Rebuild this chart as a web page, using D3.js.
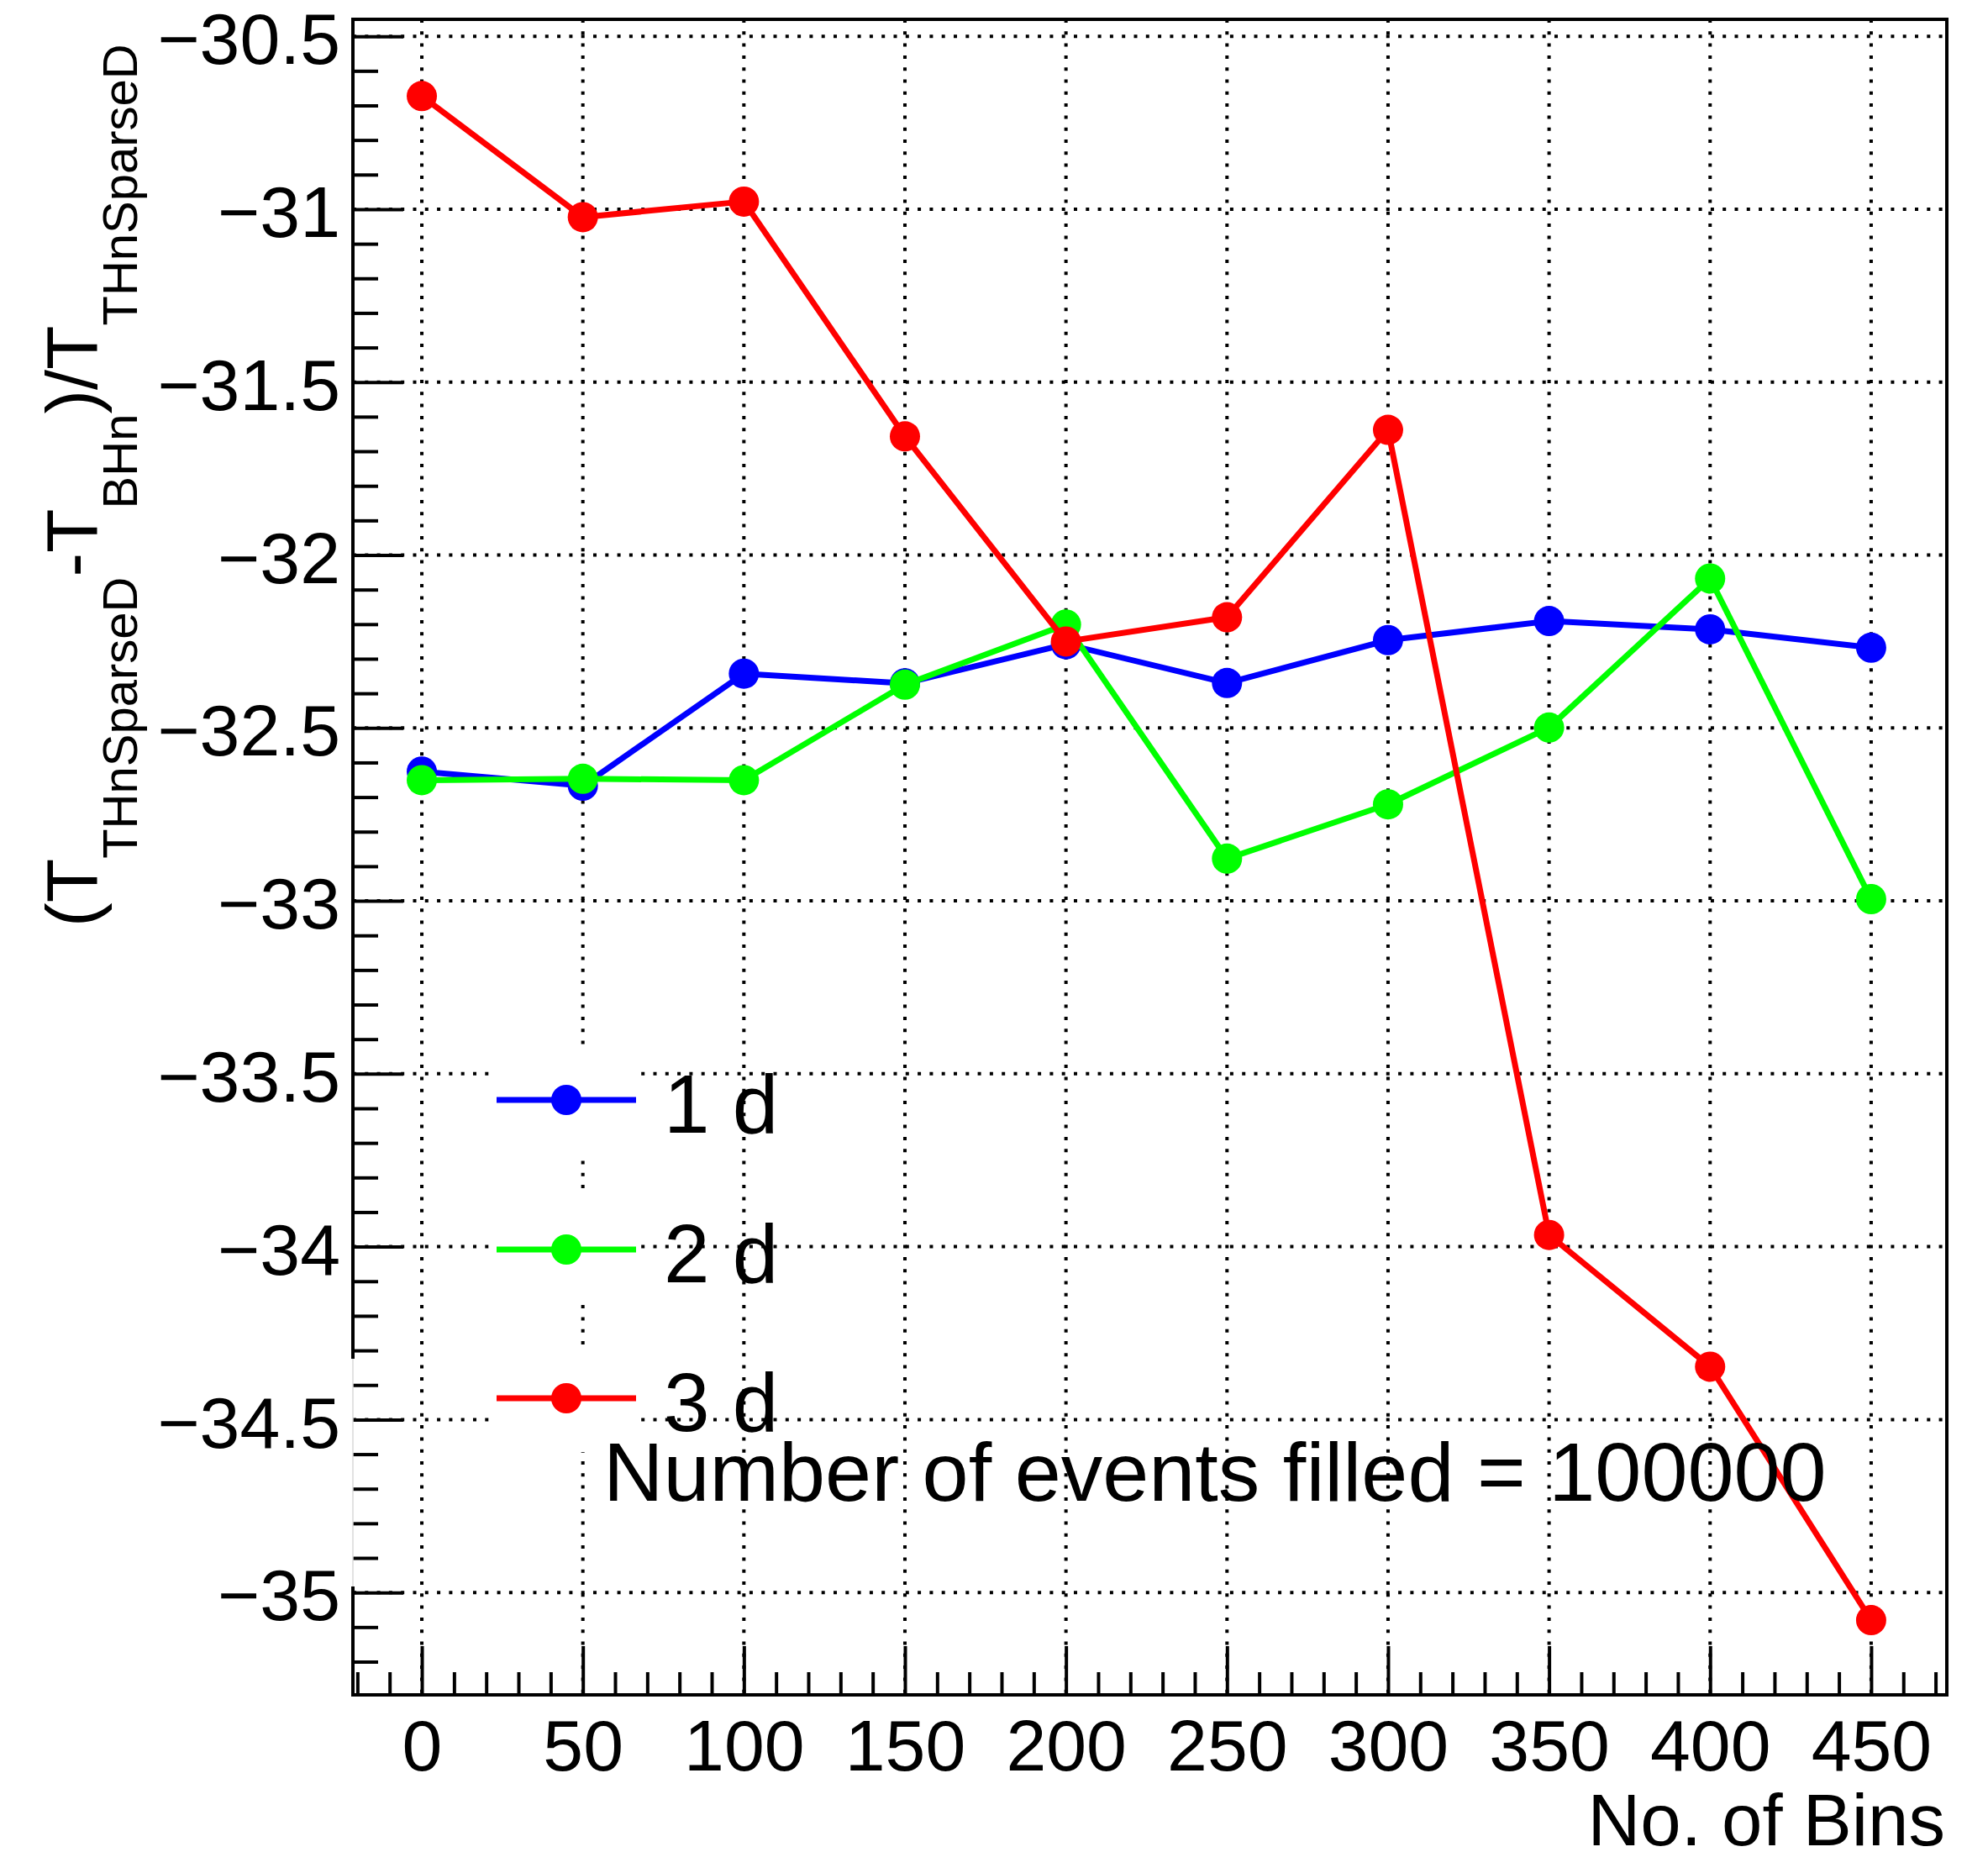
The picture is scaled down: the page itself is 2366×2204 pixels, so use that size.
<!DOCTYPE html>
<html>
<head>
<meta charset="utf-8">
<script src="https://cdn.jsdelivr.net/npm/d3@7"></script>
<style>
  html, body { margin: 0; padding: 0; background: #fff; }
  svg { display: block; }
  text { font-family: "Liberation Sans", Arial, Helvetica, sans-serif; fill: #000; }
</style>
</head>
<body>
<svg id="chart" width="2366" height="2204"></svg>
<script>
// ---- data ----
const xBins = [0, 50, 100, 150, 200, 250, 300, 350, 400, 450];
const values1d = [-32.626, -32.667, -32.343, -32.371, -32.258, -32.370, -32.246, -32.191, -32.215, -32.268];
const values2d = [-32.651, -32.647, -32.651, -32.375, -32.201, -32.878, -32.721, -32.499, -32.068, -32.995];
const values3d = [-30.673, -31.023, -30.978, -31.657, -32.250, -32.180, -31.638, -33.966, -34.347, -35.080];
const seriesNames = ["1 d", "2 d", "3 d"];
const seriesColors = ["#0000ff", "#00ff00", "#ff0000"];
const xTickValues = [0, 50, 100, 150, 200, 250, 300, 350, 400, 450];
const yTickValues = [-35, -34.5, -34, -33.5, -33, -32.5, -32, -31.5, -31, -30.5];
const xTitle = "No. of Bins";
const annotation = "Number of events filled = 100000";

const seriesList = [values1d, values2d, values3d];

// ---- layout ----
const L = 420, R = 2317, T = 23, B = 2017;
const svg = d3.select("#chart");
svg.append("rect").attr("width", 2366).attr("height", 2204).attr("fill", "#fff");

const x = d3.scaleLinear().domain([-21.4, 473.5]).range([L, R]);
const y = d3.scaleLinear().domain([-35.296, -30.451]).range([B, T]);

// grid
const grid = svg.append("g");
grid.selectAll("line.vx").data(xTickValues).join("line")
  .attr("x1", d => x(d)).attr("x2", d => x(d)).attr("y1", T).attr("y2", B)
  .attr("stroke", "#000").attr("stroke-width", 4).attr("stroke-dasharray", "4,10.3");
grid.selectAll("line.hy").data(yTickValues).join("line")
  .attr("x1", L).attr("x2", R).attr("y1", d => y(d)).attr("y2", d => y(d))
  .attr("stroke", "#000").attr("stroke-width", 4).attr("stroke-dasharray", "4,10.3");

// minor ticks
const xMinor = d3.range(-20, 473, 10).filter(v => v % 50 !== 0);
const yMinor = d3.range(-35.2, -30.45, 0.1).map(v => Math.round(v * 10) / 10)
  .filter(v => Math.abs(v * 2 - Math.round(v * 2)) > 1e-6);

const axMinX = svg.append("g").attr("transform", `translate(0,${B})`)
  .call(d3.axisBottom(x).tickValues(xMinor).tickSize(-27).tickFormat(""));
const axMinY = svg.append("g").attr("transform", `translate(${L},0)`)
  .call(d3.axisLeft(y).tickValues(yMinor).tickSize(-30).tickFormat(""));

// major ticks with labels
const axX = svg.append("g").attr("transform", `translate(0,${B})`)
  .call(d3.axisBottom(x).tickValues(xTickValues).tickSize(-58).tickPadding(29).tickFormat(d3.format("d")));
const axY = svg.append("g").attr("transform", `translate(${L},0)`)
  .call(d3.axisLeft(y).tickValues(yTickValues).tickSize(-60).tickPadding(15).tickFormat(d3.format("~g")));

[axMinX, axMinY, axX, axY].forEach(g => {
  g.select(".domain").remove();
  g.selectAll(".tick line").attr("stroke", "#000").attr("stroke-width", 4);
});
[axX, axY].forEach(g => {
  g.selectAll(".tick text").attr("font-size", 86)
    .attr("font-family", "'Liberation Sans', Arial, Helvetica, sans-serif").attr("fill", "#000");
});
axY.selectAll(".tick text").attr("dy", "0.38em");

// frame
const frame = svg.append("g").attr("stroke", "#000").attr("stroke-width", 4).attr("fill", "none");
frame.append("line").attr("x1", L - 2).attr("x2", R + 2).attr("y1", T).attr("y2", T);
frame.append("line").attr("x1", R).attr("x2", R).attr("y1", T).attr("y2", B);
frame.append("line").attr("x1", L - 2).attr("x2", R + 2).attr("y1", B).attr("y2", B);
frame.append("line").attr("x1", L).attr("x2", L).attr("y1", T).attr("y2", 1617);
frame.append("line").attr("x1", L).attr("x2", L).attr("y1", 1888).attr("y2", B);
svg.append("line").attr("x1", L).attr("x2", L).attr("y1", 1617).attr("y2", 1888)
  .attr("stroke", "#d8d8d8").attr("stroke-width", 1.5);

// legend boxes (white) + entries
const legendY = [1309, 1487, 1664];
const leg = svg.append("g");
seriesNames.forEach((name, i) => {
  const ly = legendY[i];
  leg.append("rect").attr("x", 582).attr("y", ly - 64).attr("width", 181).attr("height", 128).attr("fill", "#fff");
  leg.append("line").attr("x1", 591).attr("x2", 757).attr("y1", ly).attr("y2", ly)
    .attr("stroke", seriesColors[i]).attr("stroke-width", 7);
  leg.append("circle").attr("cx", 674).attr("cy", ly).attr("r", 18).attr("fill", seriesColors[i]);
  leg.append("text").attr("x", 790).attr("y", ly + 39).attr("font-size", 98).text(name);
});

// series
const lineGen = d3.line().x((d, i) => x(xBins[i])).y(d => y(d));
seriesList.forEach((vals, i) => {
  const g = svg.append("g");
  g.append("path").datum(vals).attr("d", lineGen).attr("fill", "none")
    .attr("stroke", seriesColors[i]).attr("stroke-width", 7).attr("stroke-linejoin", "round");
  g.selectAll("circle").data(vals).join("circle")
    .attr("cx", (d, j) => x(xBins[j])).attr("cy", d => y(d)).attr("r", 18)
    .attr("fill", seriesColors[i]);
});

// annotation
svg.append("text").attr("x", 718).attr("y", 1786).attr("font-size", 99).text(annotation);

// axis titles
svg.append("text").attr("x", 2315).attr("y", 2196).attr("text-anchor", "end")
  .attr("font-size", 87).text(xTitle);

const yt = svg.append("text").attr("transform", "translate(115,1103) rotate(-90)").attr("font-size", 86);
const parts = [
  { t: "(T", sub: false }, { t: "THnSparseD", sub: true },
  { t: "-T", sub: false }, { t: "BHn", sub: true },
  { t: ")/T", sub: false }, { t: "THnSparseD", sub: true }
];
let inSub = false;
parts.forEach(p => {
  const ts = yt.append("tspan").text(p.t);
  if (p.sub && !inSub) { ts.attr("dy", 48).attr("font-size", 58); inSub = true; }
  else if (!p.sub && inSub) { ts.attr("dy", -48); inSub = false; }
  else if (p.sub) ts.attr("font-size", 58);
});
</script>
</body>
</html>
